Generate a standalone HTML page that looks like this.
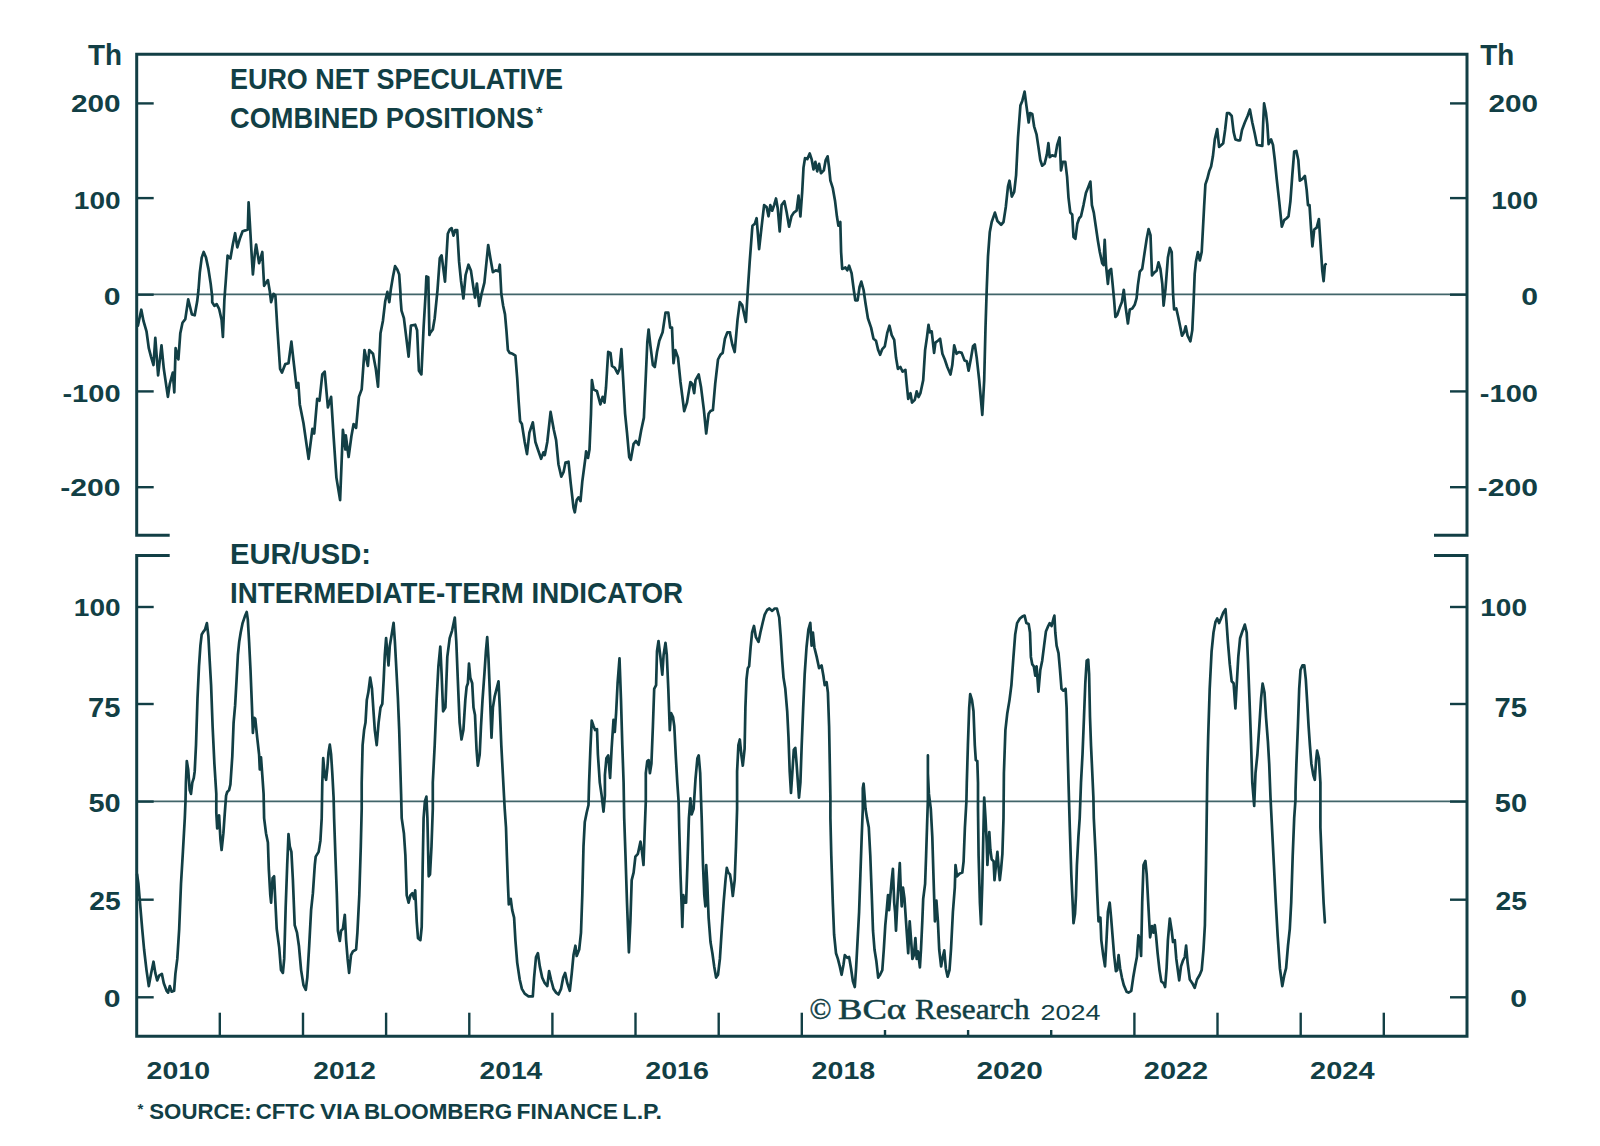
<!DOCTYPE html>
<html lang="en"><head><meta charset="utf-8"><title>Euro net speculative positions</title>
<style>html,body{margin:0;padding:0;background:#fff}body{width:1600px;height:1146px;overflow:hidden}svg{display:block}text{font-family:"Liberation Sans",sans-serif;font-weight:bold;fill:#123f45}.ser{font-family:"Liberation Serif",serif;font-weight:normal}.reg{font-weight:normal}</style></head><body>
<svg width="1600" height="1146" viewBox="0 0 1600 1146">
<rect width="1600" height="1146" fill="#fff"/>
<g stroke="#123f45" stroke-width="1.8" opacity="0.8"><line x1="136.7" y1="294.3" x2="1467.0" y2="294.3"/><line x1="136.7" y1="801.3" x2="1467.0" y2="801.3"/></g>
<g fill="none" stroke="#123f45" stroke-width="2.7" stroke-linejoin="round" stroke-linecap="round">
<path d="M137.9,325.6 L141.3,309.7 L143.5,321.0 L146.5,331.3 L148.8,348.2 L151.0,356.6 L153.5,365.0 L155.3,337.8 L158.1,375.4 L161.5,345.3 L163.8,368.8 L167.9,396.9 L169.8,383.8 L172.8,372.6 L174.3,392.3 L175.6,348.2 L178.4,359.4 L180.3,333.2 L182.5,322.8 L185.3,319.1 L188.2,299.4 L191.9,314.4 L194.7,315.3 L197.2,301.3 L198.5,290.0 L199.8,272.6 L201.7,257.6 L203.7,252.0 L206.0,257.6 L208.4,268.9 L210.7,283.9 L212.2,297.0 L212.2,295.6 L212.2,302.2 L214.4,305.9 L216.7,304.1 L219.1,308.8 L221.6,320.0 L222.9,336.9 L224.4,299.4 L225.1,290.0 L225.7,282.0 L227.6,255.7 L230.4,258.5 L232.8,244.5 L235.1,233.2 L237.3,247.3 L239.8,238.8 L242.6,231.3 L245.4,230.4 L247.8,229.5 L248.6,202.3 L250.1,227.6 L251.6,253.9 L252.9,274.5 L254.8,253.9 L256.1,244.5 L259.1,263.2 L262.3,252.0 L264.1,285.8 L267.9,280.1 L269.8,291.4 L271.1,302.2 L273.5,293.8 L275.4,295.6 L277.3,327.5 L280.1,368.8 L282.0,372.6 L285.3,364.1 L288.5,363.2 L291.4,341.6 L293.6,361.3 L296.6,387.6 L298.3,382.9 L299.8,404.4 L303.5,423.2 L308.6,458.9 L312.4,428.8 L314.2,433.5 L317.2,398.8 L319.5,400.7 L322.3,374.4 L324.7,371.6 L327.9,407.3 L331.1,396.9 L333.6,436.3 L336.4,477.6 L340.1,500.1 L342.9,429.8 L345.4,449.5 L345.8,435.4 L348.6,457.0 L351.4,436.3 L353.6,424.1 L356.1,427.9 L358.9,396.9 L361.7,389.4 L364.5,350.0 L367.9,366.0 L369.2,350.0 L373.0,353.8 L375.8,368.8 L378.0,386.6 L380.5,333.2 L382.9,321.0 L385.2,301.3 L387.4,291.9 L389.3,302.2 L390.8,289.5 L393.0,276.4 L395.1,266.1 L397.4,269.8 L399.2,274.5 L400.5,293.3 L400.5,297.5 L401.5,310.6 L403.9,318.1 L406.2,336.9 L408.6,356.6 L410.9,325.6 L415.2,324.7 L417.1,330.3 L418.9,370.7 L421.4,374.4 L423.6,327.5 L425.5,295.6 L426.4,276.4 L428.3,277.3 L429.4,335.0 L430.0,333.2 L432.8,329.5 L434.7,318.2 L437.5,290.1 L439.8,258.2 L441.6,255.3 L445.0,281.6 L447.8,233.8 L449.7,229.6 L451.6,228.1 L453.5,235.6 L455.3,230.0 L457.2,230.0 L459.1,261.9 L461.0,280.7 L463.4,298.5 L465.6,275.0 L468.5,264.7 L470.9,270.4 L473.5,288.2 L475.0,297.6 L476.9,283.5 L479.2,306.0 L481.6,293.8 L484.4,282.6 L488.2,245.0 L490.4,258.2 L492.9,272.2 L495.7,270.4 L498.5,271.3 L499.8,264.7 L501.3,293.8 L503.2,306.0 L505.0,314.4 L506.5,331.3 L507.9,350.1 L509.7,352.9 L512.6,353.8 L515.4,355.7 L517.2,378.2 L518.6,400.7 L520.1,421.3 L521.9,424.1 L524.7,442.0 L527.0,454.1 L529.4,432.6 L532.8,422.3 L535.4,442.0 L537.9,449.5 L541.1,458.8 L543.5,452.3 L544.8,455.1 L547.3,442.0 L550.6,411.9 L553.8,429.8 L556.1,440.1 L558.5,464.5 L561.3,476.7 L563.6,472.0 L565.5,462.6 L568.5,461.7 L570.7,483.2 L573.5,507.6 L574.8,512.3 L576.7,500.1 L578.6,497.3 L580.5,501.1 L582.3,481.4 L585.3,458.8 L586.1,451.3 L588.0,457.9 L589.5,449.5 L591.0,413.8 L591.9,380.0 L593.6,389.4 L597.0,391.3 L600.4,404.4 L602.6,396.9 L604.5,402.6 L606.0,387.5 L608.2,351.9 L610.5,352.9 L612.0,366.0 L614.8,367.9 L617.6,373.5 L619.5,368.9 L621.4,349.2 L623.2,380.1 L625.1,413.8 L627.0,432.6 L629.2,457.0 L630.8,459.8 L633.6,443.8 L636.0,441.0 L638.6,444.8 L641.1,430.7 L643.9,417.6 L645.8,376.3 L647.3,342.5 L648.6,329.5 L650.5,346.3 L652.9,365.1 L654.8,367.0 L657.0,352.0 L659.3,340.7 L662.6,332.3 L665.5,312.6 L668.3,312.6 L670.2,327.6 L672.0,327.6 L673.5,363.2 L675.4,350.1 L678.0,357.6 L680.5,382.0 L684.2,411.1 L687.0,402.6 L690.4,382.0 L692.3,383.9 L694.2,393.2 L695.5,380.1 L698.7,374.5 L701.1,387.6 L703.9,410.1 L706.2,433.5 L708.6,413.8 L710.5,411.0 L712.9,410.1 L715.2,383.9 L718.0,359.5 L720.4,354.8 L722.7,352.9 L724.9,338.8 L727.4,332.3 L730.0,332.3 L730.0,333.2 L732.3,344.5 L734.7,352.0 L737.5,320.1 L739.8,302.2 L742.2,305.1 L745.9,321.9 L747.8,290.0 L749.7,261.9 L752.1,230.0 L752.5,225.7 L754.8,223.8 L756.6,218.2 L759.1,249.2 L761.5,227.6 L764.1,205.1 L766.6,207.0 L768.5,216.3 L770.3,205.1 L772.2,210.7 L774.1,205.1 L776.0,198.5 L777.8,208.8 L779.7,231.3 L781.6,205.1 L784.4,201.3 L786.7,212.6 L789.1,226.7 L791.5,216.3 L793.8,212.6 L796.6,210.7 L798.5,195.7 L800.4,216.3 L802.2,191.9 L803.5,167.6 L805.0,158.2 L807.3,159.1 L809.7,153.5 L811.6,159.1 L813.5,169.4 L815.4,161.9 L817.2,171.3 L819.1,163.8 L821.0,173.2 L823.8,170.4 L825.7,160.0 L827.6,156.3 L829.1,167.6 L830.4,180.7 L832.8,188.2 L835.1,201.3 L836.9,216.3 L838.4,225.7 L840.3,222.0 L841.1,252.0 L842.2,268.9 L845.4,267.5 L847.3,270.3 L849.1,265.7 L851.6,273.2 L853.8,290.0 L855.3,300.4 L857.6,300.4 L859.5,287.2 L861.3,281.6 L863.6,290.0 L865.5,303.2 L867.9,318.2 L871.1,327.6 L873.5,338.8 L876.0,340.7 L878.2,350.1 L880.1,354.8 L882.3,349.1 L884.8,346.3 L887.2,333.2 L889.5,325.7 L891.7,335.1 L894.2,339.8 L896.0,357.6 L897.9,368.8 L900.4,367.0 L902.6,371.7 L905.4,369.8 L906.7,383.9 L908.2,398.9 L910.5,393.2 L912.0,402.6 L914.8,399.8 L916.7,391.4 L918.6,397.0 L920.4,393.2 L923.2,380.1 L925.1,350.1 L927.0,337.0 L928.5,324.8 L929.8,332.3 L931.7,331.3 L934.1,352.9 L935.4,342.6 L937.9,340.7 L940.1,338.8 L942.4,353.8 L944.8,359.5 L947.3,367.0 L950.5,374.5 L952.3,365.1 L954.2,345.4 L956.6,353.8 L958.9,352.0 L961.7,352.9 L964.5,360.4 L966.8,361.3 L968.6,370.7 L971.1,357.6 L973.0,346.3 L974.8,344.5 L976.7,357.6 L979.2,380.1 L982.3,414.8 L984.2,380.1 L985.5,327.6 L986.7,290.0 L988.0,256.3 L989.8,231.9 L991.7,222.0 L994.9,212.6 L997.4,221.0 L1001.1,224.8 L1003.5,222.0 L1005.8,207.0 L1008.0,186.3 L1009.5,180.7 L1011.8,196.6 L1014.2,191.9 L1016.1,175.1 L1018.0,137.5 L1020.4,105.6 L1022.3,100.9 L1024.6,91.6 L1026.4,105.6 L1028.7,122.5 L1030.0,113.1 L1032.3,114.1 L1034.1,126.3 L1036.6,134.7 L1038.4,146.9 L1040.3,160.0 L1042.2,165.7 L1044.6,163.8 L1046.9,154.4 L1048.4,143.2 L1049.7,157.2 L1052.1,155.4 L1055.3,156.3 L1057.2,145.0 L1059.6,137.5 L1061.0,170.4 L1062.8,161.9 L1065.3,161.9 L1067.1,176.9 L1068.5,197.6 L1070.3,212.6 L1072.2,214.5 L1073.5,237.0 L1075.4,238.8 L1077.3,223.8 L1079.2,218.2 L1081.0,216.3 L1083.5,205.1 L1085.9,192.9 L1088.2,187.3 L1090.4,181.6 L1091.9,205.1 L1093.8,212.6 L1095.7,225.7 L1097.9,240.7 L1099.8,252.0 L1102.2,263.2 L1103.5,265.1 L1104.7,239.8 L1106.0,265.1 L1107.9,283.9 L1109.2,270.7 L1111.1,268.9 L1112.6,283.9 L1114.1,300.1 L1115.4,317.0 L1117.2,315.1 L1119.7,307.6 L1121.9,302.0 L1123.8,289.8 L1125.7,307.6 L1127.9,323.5 L1129.8,309.5 L1132.3,308.5 L1134.7,304.8 L1136.6,298.2 L1137.9,285.1 L1139.8,271.7 L1142.2,268.9 L1144.4,253.9 L1146.7,238.8 L1148.6,229.1 L1150.5,235.1 L1152.0,275.4 L1154.2,272.6 L1156.6,270.7 L1158.5,262.3 L1160.4,268.9 L1162.3,283.9 L1163.6,305.7 L1165.5,288.8 L1167.9,257.6 L1169.8,247.9 L1171.7,252.0 L1173.0,292.6 L1174.1,309.5 L1176.3,308.5 L1178.2,317.0 L1180.1,326.3 L1182.0,335.7 L1184.2,332.0 L1185.7,326.3 L1187.6,335.7 L1190.4,341.4 L1192.3,330.1 L1193.6,302.0 L1194.7,273.8 L1196.0,261.4 L1197.9,252.0 L1199.8,260.4 L1201.7,252.0 L1202.6,235.1 L1204.1,207.0 L1205.4,184.4 L1207.3,178.8 L1209.2,171.3 L1211.1,166.6 L1212.9,156.3 L1214.8,139.4 L1217.2,129.1 L1219.1,146.9 L1221.4,145.0 L1223.2,143.2 L1225.1,130.0 L1227.0,113.1 L1229.2,113.1 L1231.7,116.0 L1233.6,131.9 L1235.4,139.4 L1237.9,140.3 L1240.1,140.3 L1242.0,130.0 L1244.8,122.5 L1247.6,116.0 L1249.9,109.4 L1252.3,122.5 L1254.8,133.8 L1257.0,145.0 L1259.8,145.4 L1262.3,146.0 L1263.2,122.5 L1264.1,103.4 L1266.0,113.1 L1267.3,124.4 L1268.6,144.1 L1271.1,139.4 L1273.0,145.0 L1274.8,160.0 L1276.7,178.8 L1279.2,201.3 L1281.8,226.7 L1284.2,220.1 L1286.7,218.2 L1288.5,216.3 L1290.4,201.3 L1292.3,175.1 L1294.2,151.6 L1296.4,151.0 L1298.3,160.0 L1299.8,180.7 L1302.4,178.8 L1304.9,176.0 L1306.7,190.1 L1308.0,205.1 L1309.5,205.1 L1311.1,229.5 L1312.4,246.4 L1314.2,229.5 L1316.7,227.6 L1318.9,219.1 L1320.8,248.2 L1322.3,270.7 L1323.6,281.1 L1324.9,265.1 L1325.7,264.2"/>
<path d="M137.1,874.4 L138.4,883.8 L140.3,906.3 L142.2,928.8 L144.1,949.5 L146.5,970.1 L148.8,986.1 L151.0,973.9 L153.5,961.7 L155.3,972.9 L157.2,980.4 L159.1,975.7 L161.9,973.9 L163.8,983.2 L166.6,990.8 L168.1,992.6 L169.8,986.1 L171.7,991.7 L174.1,990.8 L175.4,973.9 L177.3,958.9 L179.2,928.8 L181.0,883.8 L182.9,851.9 L184.8,818.1 L185.5,801.3 L185.9,782.6 L186.8,761.0 L188.2,769.5 L189.7,790.1 L191.0,793.9 L192.3,782.6 L193.8,777.9 L194.7,771.4 L196.0,745.1 L197.5,698.2 L199.0,666.3 L200.4,645.7 L201.7,634.4 L203.5,631.6 L205.0,629.7 L206.9,623.1 L208.4,636.3 L209.7,660.7 L211.1,685.1 L212.6,726.3 L214.4,763.9 L216.3,793.9 L216.3,812.5 L217.2,828.5 L219.1,815.3 L220.4,838.8 L221.6,850.0 L223.4,833.2 L224.7,814.4 L226.1,795.6 L227.2,792.0 L229.1,790.1 L230.4,784.5 L232.3,756.4 L233.6,722.6 L235.1,705.7 L236.6,679.4 L237.9,655.0 L239.2,641.9 L240.7,632.5 L242.6,623.1 L244.8,616.6 L246.7,611.9 L247.8,619.4 L249.1,641.9 L250.5,670.0 L252.0,707.6 L252.9,732.9 L254.2,717.9 L255.3,718.8 L257.2,737.6 L259.1,754.5 L259.8,769.5 L261.0,757.3 L262.3,775.1 L263.6,793.9 L264.1,818.1 L266.0,833.2 L267.9,842.5 L268.8,868.8 L270.3,895.1 L271.1,902.6 L272.6,878.2 L274.1,876.3 L275.4,902.6 L276.7,928.8 L279.2,947.6 L281.0,970.1 L282.9,972.9 L284.2,958.9 L285.7,906.3 L287.2,865.0 L288.5,834.1 L289.8,846.3 L291.4,851.9 L292.9,880.1 L294.7,925.1 L297.0,932.6 L298.9,945.7 L301.1,970.1 L303.5,985.1 L305.8,989.8 L307.3,977.6 L309.2,945.7 L311.1,910.1 L312.9,893.2 L314.8,865.0 L315.7,856.6 L318.6,851.9 L320.4,840.7 L321.7,818.1 L322.3,782.6 L323.2,758.2 L324.7,775.1 L326.1,779.8 L327.4,767.6 L328.5,752.6 L329.8,744.7 L331.1,754.5 L332.3,773.2 L333.6,797.6 L334.1,818.1 L335.4,855.7 L336.8,893.2 L337.9,930.7 L339.8,941.0 L341.1,930.7 L342.9,928.8 L344.8,914.8 L346.1,940.1 L347.6,958.9 L349.1,972.9 L351.0,955.1 L352.9,951.4 L356.1,949.5 L357.4,932.6 L359.3,895.1 L360.8,846.3 L361.7,808.8 L361.7,782.6 L362.6,745.1 L364.1,730.1 L365.5,722.6 L366.8,700.1 L368.3,692.6 L370.2,677.6 L372.0,688.8 L373.5,711.3 L374.8,730.1 L376.7,745.1 L378.6,722.6 L380.5,707.6 L382.3,703.8 L383.7,679.4 L384.8,655.0 L386.1,638.2 L387.4,653.2 L388.5,665.4 L389.8,645.7 L391.7,634.4 L393.6,622.8 L394.9,641.9 L396.4,670.0 L397.9,698.2 L399.2,730.1 L400.2,763.9 L401.1,793.9 L401.7,818.1 L403.9,833.2 L405.4,855.7 L406.7,895.1 L408.6,902.6 L410.5,895.1 L412.4,893.2 L414.2,898.8 L415.2,890.4 L416.7,921.3 L418.0,938.2 L420.4,940.1 L421.7,927.0 L422.7,865.0 L423.6,818.1 L424.9,801.3 L426.4,796.6 L427.4,818.1 L428.7,876.3 L430.0,874.4 L431.5,846.3 L432.8,808.8 L432.8,782.6 L434.7,745.1 L436.6,700.1 L438.4,666.3 L440.3,646.6 L441.6,673.8 L443.1,711.3 L445.4,707.6 L447.3,656.9 L449.7,638.2 L452.1,630.6 L454.8,617.5 L456.3,641.9 L457.8,679.4 L459.6,722.6 L461.5,739.5 L463.4,730.1 L465.3,700.1 L466.6,686.9 L467.9,683.2 L469.0,663.5 L470.3,677.6 L472.2,683.2 L473.5,707.6 L475.0,715.1 L476.5,748.8 L477.8,765.7 L479.7,754.5 L481.0,726.3 L482.5,700.1 L484.4,673.8 L485.9,651.3 L487.2,637.2 L488.5,658.8 L490.0,696.3 L491.5,737.6 L492.9,707.6 L494.7,696.3 L496.6,688.8 L498.5,681.3 L499.8,707.6 L501.3,745.1 L502.8,773.2 L504.1,797.6 L504.7,808.8 L506.0,827.5 L506.9,855.7 L507.9,883.8 L508.8,904.4 L510.7,898.8 L512.2,910.1 L514.1,917.6 L515.4,940.1 L517.2,962.6 L519.7,979.5 L521.9,988.9 L524.7,993.6 L528.5,996.4 L532.8,996.4 L534.1,977.6 L536.0,957.0 L537.9,953.2 L539.8,966.4 L542.2,977.6 L544.8,983.2 L547.3,986.1 L549.1,971.1 L551.0,979.5 L553.5,988.9 L556.1,992.6 L558.5,994.5 L561.0,988.9 L563.2,977.6 L565.1,972.9 L567.3,983.2 L569.8,990.8 L571.7,973.9 L573.5,955.1 L575.4,945.7 L576.7,956.0 L579.2,949.5 L581.0,932.6 L582.3,895.1 L583.5,846.3 L584.8,821.9 L586.7,812.5 L588.5,805.0 L589.1,782.6 L590.4,748.8 L591.7,720.7 L593.6,726.3 L595.1,730.1 L597.0,729.1 L597.9,754.5 L599.8,782.6 L601.7,795.6 L603.5,811.6 L604.9,795.6 L604.9,775.1 L606.4,758.2 L608.2,755.4 L610.1,777.9 L611.6,748.8 L613.5,719.8 L614.8,732.0 L616.1,713.2 L617.6,683.2 L619.5,658.4 L621.0,700.1 L622.3,745.1 L623.6,782.6 L624.2,818.1 L625.5,855.7 L627.0,902.6 L628.9,952.3 L630.4,921.3 L631.7,880.1 L633.6,872.6 L635.4,856.6 L637.9,853.8 L640.5,841.6 L642.0,851.9 L643.5,865.0 L644.8,827.5 L645.8,801.3 L645.8,773.2 L647.3,761.0 L648.6,760.1 L649.9,773.2 L651.4,763.9 L652.9,726.3 L654.2,688.8 L656.1,685.1 L657.0,651.3 L658.5,641.0 L660.4,656.9 L662.3,674.7 L663.6,655.0 L665.5,642.8 L666.8,655.0 L668.3,688.8 L669.8,730.1 L671.1,713.2 L673.0,717.0 L674.3,726.3 L675.8,756.4 L677.3,782.6 L678.6,801.4 L679.2,827.5 L680.5,874.4 L681.8,910.1 L682.3,927.0 L683.3,895.1 L684.8,902.6 L686.1,902.6 L687.4,865.0 L688.9,818.1 L690.4,798.4 L691.7,814.4 L693.6,808.8 L695.5,778.9 L697.4,758.2 L698.7,755.4 L700.2,773.2 L701.1,801.4 L701.7,818.1 L703.0,865.0 L704.3,895.1 L705.4,906.3 L706.2,865.0 L707.3,883.8 L708.6,917.6 L710.5,942.0 L712.4,953.2 L714.2,966.4 L716.1,977.6 L718.0,974.8 L719.9,958.9 L721.7,930.7 L723.6,902.6 L725.5,880.1 L726.8,867.9 L728.3,872.6 L730.0,874.4 L731.5,883.8 L732.8,896.0 L734.7,880.1 L736.0,846.3 L737.1,808.8 L737.1,771.4 L738.4,745.1 L739.8,739.5 L741.3,754.5 L742.8,765.7 L744.6,748.8 L745.4,707.6 L746.5,679.4 L747.8,668.2 L749.1,666.3 L750.6,647.5 L752.1,632.5 L754.0,626.0 L755.9,637.2 L758.5,641.9 L760.4,632.5 L762.8,622.2 L764.7,614.7 L767.1,610.0 L769.4,608.5 L772.2,610.9 L774.7,608.5 L776.9,608.5 L779.2,617.5 L780.7,636.3 L782.2,660.7 L783.5,677.6 L785.3,688.8 L787.2,711.3 L788.5,737.6 L789.7,771.4 L791.0,792.9 L792.3,773.2 L793.8,749.8 L795.3,747.9 L796.6,763.9 L797.9,782.6 L799.0,797.6 L800.4,782.6 L801.7,745.1 L803.2,707.6 L804.7,673.8 L806.5,647.5 L808.4,629.7 L810.3,622.8 L811.6,645.7 L812.9,632.5 L814.4,647.5 L816.7,656.9 L819.1,668.2 L821.6,665.4 L823.4,675.7 L824.7,685.1 L826.6,682.2 L827.9,692.6 L829.1,726.3 L829.8,763.9 L830.4,797.6 L830.4,818.1 L831.3,855.7 L832.8,902.6 L834.1,934.5 L836.0,953.2 L837.9,958.9 L839.8,966.4 L841.6,974.8 L843.5,964.5 L844.8,955.1 L847.3,957.9 L849.1,957.0 L851.0,968.2 L852.9,981.4 L854.8,987.0 L856.1,968.2 L857.6,940.1 L859.1,912.0 L860.4,874.4 L861.7,836.9 L862.8,808.8 L862.8,788.2 L863.6,783.6 L864.7,797.6 L865.5,808.8 L867.0,818.1 L868.8,827.5 L870.3,855.7 L871.7,893.2 L873.0,930.7 L874.5,949.5 L876.3,960.7 L878.2,977.6 L880.1,974.8 L882.3,970.1 L883.8,949.5 L885.3,925.1 L886.7,910.1 L888.0,895.1 L889.1,910.1 L890.4,895.1 L891.7,880.1 L892.9,868.8 L894.2,902.6 L895.1,912.0 L896.0,930.7 L897.4,902.6 L898.5,883.8 L899.8,863.2 L900.7,887.6 L901.7,906.3 L903.0,887.6 L904.5,898.8 L906.0,921.3 L907.3,940.1 L908.2,953.2 L909.7,921.3 L911.1,940.1 L912.4,958.9 L913.9,955.1 L915.4,938.2 L916.7,958.9 L918.0,951.4 L919.9,967.3 L921.0,949.5 L922.3,921.3 L923.2,898.8 L925.1,883.8 L926.1,855.7 L927.0,827.5 L927.9,799.4 L927.9,773.2 L927.9,755.4 L927.9,773.2 L928.9,793.9 L930.8,808.8 L932.3,836.9 L933.6,880.1 L934.9,921.3 L936.4,900.7 L937.9,921.3 L939.2,949.5 L941.1,966.4 L942.4,958.9 L944.3,950.4 L945.8,968.2 L947.6,976.7 L949.5,970.1 L951.0,949.5 L952.9,912.0 L954.8,887.6 L955.5,865.0 L957.0,876.3 L959.8,873.5 L962.3,872.6 L963.6,861.3 L964.9,827.5 L966.4,801.3 L966.8,782.6 L967.9,745.1 L969.2,707.6 L970.2,694.1 L972.0,700.1 L973.5,711.3 L974.8,745.1 L975.8,760.1 L977.3,761.0 L978.0,782.6 L978.0,808.8 L978.6,855.7 L979.9,902.6 L981.0,924.1 L982.3,883.8 L983.3,836.9 L984.2,797.5 L985.5,818.1 L986.7,842.5 L987.4,865.0 L988.5,846.3 L989.3,832.2 L990.4,850.0 L991.7,859.4 L993.6,861.3 L994.5,880.1 L996.0,865.0 L997.4,851.9 L998.7,868.8 L999.8,880.1 L1001.1,868.8 L1002.4,853.8 L1003.5,818.1 L1003.9,773.2 L1005.4,730.1 L1007.3,713.2 L1009.5,700.1 L1011.4,685.1 L1013.3,658.8 L1015.2,634.4 L1017.1,623.1 L1019.9,618.5 L1022.3,616.6 L1024.6,615.6 L1026.4,623.1 L1028.7,624.1 L1030.0,632.5 L1030.9,656.9 L1032.3,664.4 L1033.8,666.3 L1035.3,675.7 L1036.6,666.3 L1038.4,691.6 L1040.3,670.0 L1042.2,660.7 L1044.1,645.7 L1045.9,631.6 L1047.8,626.9 L1049.7,623.1 L1051.6,626.0 L1053.5,618.5 L1054.4,615.6 L1055.3,632.5 L1056.6,645.7 L1058.5,653.2 L1060.0,670.0 L1061.5,688.8 L1063.4,690.7 L1065.6,688.8 L1066.6,707.6 L1067.5,745.1 L1068.5,782.6 L1069.8,827.5 L1071.3,874.4 L1072.8,906.3 L1073.5,923.2 L1075.0,913.8 L1076.0,895.1 L1076.9,865.0 L1078.4,836.9 L1079.7,818.1 L1081.0,782.6 L1082.5,754.5 L1084.0,717.0 L1085.3,683.2 L1086.7,660.7 L1088.2,659.7 L1089.1,673.8 L1090.0,717.0 L1091.0,745.1 L1092.3,773.2 L1093.4,797.6 L1093.8,818.1 L1095.7,855.7 L1097.2,893.2 L1098.5,921.3 L1100.4,917.6 L1101.3,940.1 L1103.2,955.1 L1105.0,966.4 L1106.5,940.1 L1107.9,912.0 L1109.7,902.6 L1111.1,917.6 L1112.6,936.3 L1114.1,955.1 L1115.9,971.1 L1117.2,970.1 L1118.6,955.1 L1120.1,968.2 L1121.9,977.6 L1123.8,985.1 L1126.6,991.7 L1128.5,992.6 L1131.3,990.8 L1133.2,977.6 L1135.1,966.4 L1136.9,957.0 L1138.4,935.4 L1139.8,940.1 L1141.1,956.0 L1142.2,902.6 L1143.5,865.0 L1145.4,860.9 L1146.7,874.4 L1148.2,902.6 L1150.1,937.3 L1152.0,926.0 L1153.5,932.6 L1154.8,925.1 L1156.1,936.3 L1157.6,953.2 L1159.5,970.1 L1161.3,981.4 L1163.6,983.2 L1165.1,987.0 L1166.6,968.2 L1167.9,940.1 L1169.8,918.5 L1171.7,930.7 L1173.0,942.0 L1174.8,940.1 L1176.3,958.9 L1179.2,980.4 L1181.0,966.4 L1182.9,960.7 L1184.8,957.0 L1186.1,945.7 L1187.6,962.6 L1189.8,979.5 L1192.3,983.2 L1194.7,987.9 L1197.0,979.5 L1199.8,974.8 L1201.7,970.1 L1203.5,949.5 L1204.9,925.1 L1206.0,865.0 L1206.7,818.1 L1207.3,773.2 L1208.2,735.7 L1209.7,688.8 L1211.6,651.3 L1213.5,632.5 L1215.4,622.2 L1217.2,618.5 L1219.1,623.1 L1221.0,618.5 L1223.2,612.8 L1225.5,609.1 L1226.6,623.1 L1227.9,641.9 L1229.8,664.4 L1231.7,681.3 L1233.6,683.2 L1235.4,708.5 L1236.8,683.2 L1238.3,656.9 L1240.1,638.2 L1242.0,632.5 L1244.8,624.6 L1246.7,632.5 L1248.0,660.7 L1249.5,700.1 L1251.0,741.3 L1252.3,782.6 L1254.2,805.9 L1255.5,773.2 L1257.4,754.5 L1259.3,726.3 L1261.1,698.2 L1262.6,683.6 L1264.5,692.6 L1266.0,717.0 L1267.9,741.3 L1269.2,763.9 L1270.5,797.6 L1272.0,827.5 L1273.9,865.0 L1275.8,902.6 L1277.7,936.3 L1279.9,968.2 L1282.3,986.1 L1284.2,975.7 L1286.1,968.2 L1288.0,945.7 L1289.8,928.8 L1291.2,902.6 L1292.7,855.7 L1294.2,818.1 L1295.5,799.4 L1295.5,792.0 L1296.4,763.9 L1297.9,726.3 L1299.2,688.8 L1300.5,670.0 L1302.4,665.4 L1304.3,665.4 L1305.8,679.4 L1307.3,703.8 L1308.6,726.3 L1309.9,745.1 L1311.4,763.9 L1313.3,775.1 L1314.8,779.8 L1316.1,760.1 L1317.1,750.7 L1318.9,758.2 L1320.4,782.6 L1320.4,827.5 L1322.3,874.4 L1323.6,902.6 L1324.9,922.3"/>
</g>
<g fill="none" stroke="#123f45" stroke-width="3" stroke-linecap="butt">
<path d="M169.7,535.3 H136.7 V54.2 H1467.0 V535.3 H1434.0"/>
<path d="M169.7,555.6 H136.7 V1036.3 H1467.0 V555.6 H1434.0"/>
</g>
<g stroke="#123f45" stroke-width="2.4">
<line x1="136.7" y1="103.4" x2="153.7" y2="103.4"/><line x1="1450.0" y1="103.4" x2="1467.0" y2="103.4"/>
<line x1="136.7" y1="198.1" x2="153.7" y2="198.1"/><line x1="1450.0" y1="198.1" x2="1467.0" y2="198.1"/>
<line x1="136.7" y1="294.7" x2="153.7" y2="294.7"/><line x1="1450.0" y1="294.7" x2="1467.0" y2="294.7"/>
<line x1="136.7" y1="391.4" x2="153.7" y2="391.4"/><line x1="1450.0" y1="391.4" x2="1467.0" y2="391.4"/>
<line x1="136.7" y1="487.2" x2="153.7" y2="487.2"/><line x1="1450.0" y1="487.2" x2="1467.0" y2="487.2"/>
<line x1="136.7" y1="607.0" x2="153.7" y2="607.0"/><line x1="1450.0" y1="607.0" x2="1467.0" y2="607.0"/>
<line x1="136.7" y1="704.0" x2="153.7" y2="704.0"/><line x1="1450.0" y1="704.0" x2="1467.0" y2="704.0"/>
<line x1="136.7" y1="801.6" x2="153.7" y2="801.6"/><line x1="1450.0" y1="801.6" x2="1467.0" y2="801.6"/>
<line x1="136.7" y1="899.7" x2="153.7" y2="899.7"/><line x1="1450.0" y1="899.7" x2="1467.0" y2="899.7"/>
<line x1="136.7" y1="997.3" x2="153.7" y2="997.3"/><line x1="1450.0" y1="997.3" x2="1467.0" y2="997.3"/>
<line x1="219.8" y1="1036.3" x2="219.8" y2="1012.7"/>
<line x1="303.0" y1="1036.3" x2="303.0" y2="1012.7"/>
<line x1="386.1" y1="1036.3" x2="386.1" y2="1012.7"/>
<line x1="469.3" y1="1036.3" x2="469.3" y2="1012.7"/>
<line x1="552.4" y1="1036.3" x2="552.4" y2="1012.7"/>
<line x1="635.5" y1="1036.3" x2="635.5" y2="1012.7"/>
<line x1="718.7" y1="1036.3" x2="718.7" y2="1012.7"/>
<line x1="801.8" y1="1036.3" x2="801.8" y2="1012.7"/>
<line x1="885.0" y1="1036.3" x2="885.0" y2="1012.7"/>
<line x1="968.1" y1="1036.3" x2="968.1" y2="1012.7"/>
<line x1="1051.2" y1="1036.3" x2="1051.2" y2="1012.7"/>
<line x1="1134.4" y1="1036.3" x2="1134.4" y2="1012.7"/>
<line x1="1217.5" y1="1036.3" x2="1217.5" y2="1012.7"/>
<line x1="1300.7" y1="1036.3" x2="1300.7" y2="1012.7"/>
<line x1="1383.8" y1="1036.3" x2="1383.8" y2="1012.7"/>
</g>
<rect x="804" y="994" width="302" height="36" fill="#fff"/>
<text class="ser" y="1019" font-size="30" stroke="#123f45" stroke-width="0.5"><tspan x="809.5" textLength="22" lengthAdjust="spacingAndGlyphs">©</tspan> <tspan x="838" textLength="68" lengthAdjust="spacingAndGlyphs">BCα</tspan> <tspan x="915" textLength="114.5" lengthAdjust="spacingAndGlyphs">Research</tspan> <tspan x="1040.5" dy="0.6" textLength="60" lengthAdjust="spacingAndGlyphs" font-family="Liberation Sans,sans-serif" font-size="21.5" stroke="none">2024</tspan></text>
<text x="120.6" y="112.0" font-size="23" text-anchor="end" textLength="49.6" lengthAdjust="spacingAndGlyphs">200</text>
<text x="1538.0" y="112.0" font-size="23" text-anchor="end" textLength="49.6" lengthAdjust="spacingAndGlyphs">200</text>
<text x="120.6" y="208.6" font-size="23" text-anchor="end" textLength="46.8" lengthAdjust="spacingAndGlyphs">100</text>
<text x="1538.0" y="208.6" font-size="23" text-anchor="end" textLength="46.8" lengthAdjust="spacingAndGlyphs">100</text>
<text x="120.6" y="304.9" font-size="23" text-anchor="end" textLength="16.8" lengthAdjust="spacingAndGlyphs">0</text>
<text x="1538.0" y="304.9" font-size="23" text-anchor="end" textLength="16.8" lengthAdjust="spacingAndGlyphs">0</text>
<text x="120.6" y="401.8" font-size="23" text-anchor="end" textLength="58.2" lengthAdjust="spacingAndGlyphs">-100</text>
<text x="1538.0" y="401.8" font-size="23" text-anchor="end" textLength="58.2" lengthAdjust="spacingAndGlyphs">-100</text>
<text x="120.6" y="496.4" font-size="23" text-anchor="end" textLength="60.4" lengthAdjust="spacingAndGlyphs">-200</text>
<text x="1538.0" y="496.4" font-size="23" text-anchor="end" textLength="60.4" lengthAdjust="spacingAndGlyphs">-200</text>
<text x="120.6" y="615.5" font-size="23" text-anchor="end" textLength="46.8" lengthAdjust="spacingAndGlyphs">100</text>
<text x="1527.0" y="615.5" font-size="23" text-anchor="end" textLength="46.8" lengthAdjust="spacingAndGlyphs">100</text>
<text x="120.6" y="717.4" font-size="28" text-anchor="end" textLength="32.5" lengthAdjust="spacingAndGlyphs">75</text>
<text x="1527.0" y="717.4" font-size="28" text-anchor="end" textLength="32.5" lengthAdjust="spacingAndGlyphs">75</text>
<text x="120.6" y="812.2" font-size="26" text-anchor="end" textLength="32.2" lengthAdjust="spacingAndGlyphs">50</text>
<text x="1527.0" y="812.2" font-size="26" text-anchor="end" textLength="32.2" lengthAdjust="spacingAndGlyphs">50</text>
<text x="120.6" y="910.4" font-size="26" text-anchor="end" textLength="31.4" lengthAdjust="spacingAndGlyphs">25</text>
<text x="1527.0" y="910.4" font-size="26" text-anchor="end" textLength="31.4" lengthAdjust="spacingAndGlyphs">25</text>
<text x="120.6" y="1007.1" font-size="23" text-anchor="end" textLength="16.8" lengthAdjust="spacingAndGlyphs">0</text>
<text x="1527.0" y="1007.1" font-size="23" text-anchor="end" textLength="16.8" lengthAdjust="spacingAndGlyphs">0</text>
<text x="122.0" y="64.5" font-size="29" text-anchor="end" textLength="34.0" lengthAdjust="spacingAndGlyphs">Th</text>
<text x="1480.3" y="64.5" font-size="29" text-anchor="start" textLength="34.0" lengthAdjust="spacingAndGlyphs">Th</text>
<text x="178.3" y="1079.2" font-size="24" text-anchor="middle" textLength="63.4" lengthAdjust="spacingAndGlyphs">2010</text>
<text x="344.6" y="1079.2" font-size="24" text-anchor="middle" textLength="62.5" lengthAdjust="spacingAndGlyphs">2012</text>
<text x="510.9" y="1079.2" font-size="24" text-anchor="middle" textLength="62.7" lengthAdjust="spacingAndGlyphs">2014</text>
<text x="677.1" y="1079.2" font-size="24" text-anchor="middle" textLength="63.7" lengthAdjust="spacingAndGlyphs">2016</text>
<text x="843.4" y="1079.2" font-size="24" text-anchor="middle" textLength="63.6" lengthAdjust="spacingAndGlyphs">2018</text>
<text x="1009.7" y="1079.2" font-size="24" text-anchor="middle" textLength="66.3" lengthAdjust="spacingAndGlyphs">2020</text>
<text x="1176.0" y="1079.2" font-size="24" text-anchor="middle" textLength="64.4" lengthAdjust="spacingAndGlyphs">2022</text>
<text x="1342.3" y="1079.2" font-size="24" text-anchor="middle" textLength="64.4" lengthAdjust="spacingAndGlyphs">2024</text>
<text x="230" y="88.7" font-size="29.3" textLength="333" lengthAdjust="spacingAndGlyphs">EURO NET SPECULATIVE</text>
<text x="230" y="127.6" font-size="29.3" textLength="304" lengthAdjust="spacingAndGlyphs">COMBINED POSITIONS</text>
<text x="536" y="119" font-size="17">*</text>
<text x="230" y="564" font-size="29.3" textLength="141" lengthAdjust="spacingAndGlyphs">EUR/USD:</text>
<text x="230" y="603" font-size="29.3" textLength="453" lengthAdjust="spacingAndGlyphs">INTERMEDIATE-TERM INDICATOR</text>
<text y="1119.3" font-size="22.5"><tspan x="137.4" y="1113.6" font-size="15">*</tspan> <tspan x="149.3" y="1119.3" textLength="102.4" lengthAdjust="spacingAndGlyphs">SOURCE:</tspan> <tspan x="255.8" textLength="59.1" lengthAdjust="spacingAndGlyphs">CFTC</tspan> <tspan x="319.9" textLength="39.6" lengthAdjust="spacingAndGlyphs">VIA</tspan> <tspan x="363.9" textLength="148.2" lengthAdjust="spacingAndGlyphs">BLOOMBERG</tspan> <tspan x="516.6" textLength="101.4" lengthAdjust="spacingAndGlyphs">FINANCE</tspan> <tspan x="622.5" textLength="39.5" lengthAdjust="spacingAndGlyphs">L.P.</tspan></text>
</svg></body></html>
